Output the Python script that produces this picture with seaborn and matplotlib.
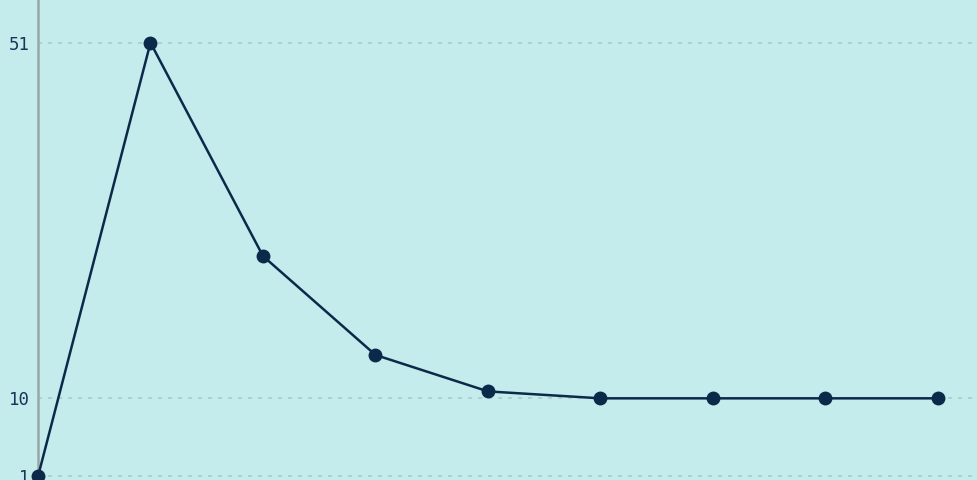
import matplotlib
matplotlib.use("Agg")
import matplotlib.pyplot as plt
import seaborn as sns
import pandas as pd

# values
steps = [0, 1, 2, 3, 4, 5, 6, 7, 8]
values = [1, 51, 26.4, 15, 10.8, 10, 10, 10, 10]
ytick_values = [1, 10, 51]

bg = "#c5ecec"
navy = "#0b2a4a"

sns.set_theme(style="white")
plt.rcParams["font.family"] = ["DejaVu Sans Mono", "DejaVu Sans"]

fig = plt.figure(figsize=(9.78, 4.8), dpi=100)
fig.patch.set_facecolor(bg)
ax = fig.add_axes([38 / 978, 0, 940 / 978, 1])
ax.set_facecolor(bg)

df = pd.DataFrame({"step": steps, "value": values})
sns.lineplot(data=df, x="step", y="value", ax=ax, color=navy, linewidth=1.8,
             marker="o", markersize=10, markeredgewidth=0, clip_on=False, zorder=3)

ax.set_xlim(0, 8.356)
ax.set_ylim(0.585, 55.92)
ax.set_yticks(ytick_values)
ax.set_yticklabels([str(v) for v in ytick_values])
ax.set_xticks([])
ax.set_xlabel("")
ax.set_ylabel("")
ax.tick_params(axis="y", length=0, pad=6, labelsize=12.5, labelcolor="#1a3555")

ax.grid(axis="y", linestyle=(0, (2.5, 3.5)), color="#a6cccc", linewidth=1.2)
ax.grid(axis="x", visible=False)

for side in ["top", "right", "bottom"]:
    ax.spines[side].set_visible(False)
ax.spines["left"].set_color("#9aa6a6")
ax.spines["left"].set_linewidth(1.8)

fig.savefig("out.png", dpi=100, facecolor=bg)
